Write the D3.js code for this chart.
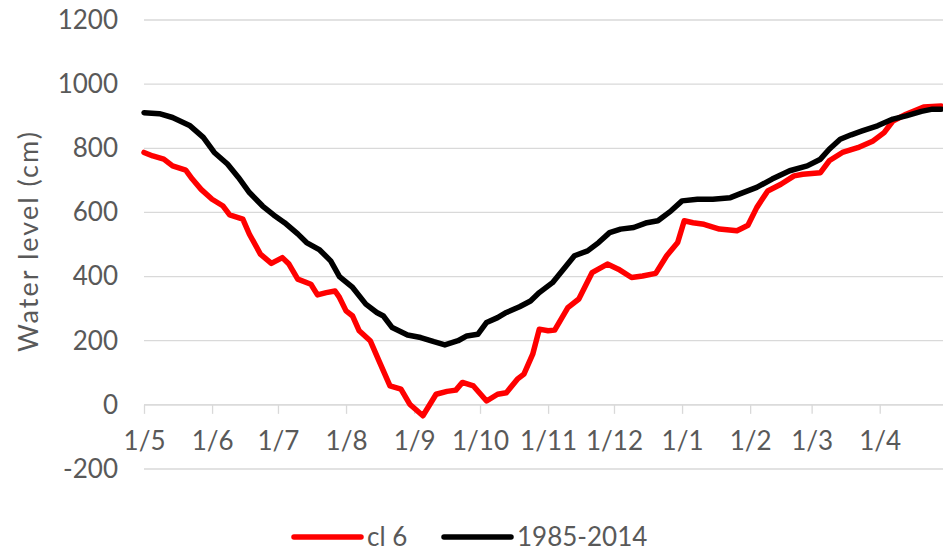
<!DOCTYPE html>
<html>
<head>
<meta charset="utf-8">
<script src="https://cdn.jsdelivr.net/npm/d3@7"></script>
<style>
  html, body { margin: 0; padding: 0; background: #fff; }
  svg { display: block; }
  text { font-family: Lato, "Open Sans", sans-serif; fill: #595959; }
</style>
</head>
<body>
<svg id="chart" width="943" height="554"></svg>
<script>
// ---- data (days since 1 May, water level in cm) ----
const monthStartDays = [0, 31, 61, 92, 123, 153, 184, 214, 245, 276, 304, 335];
const monthLabels = ["1/5", "1/6", "1/7", "1/8", "1/9", "1/10", "1/11", "1/12", "1/1", "1/2", "1/3", "1/4"];
const yTicks = [-200, 0, 200, 400, 600, 800, 1000, 1200];

const seriesNames = ["cl 6", "1985-2014"];

const cl6Days = [0, 4, 9, 13, 19, 22, 26, 31, 36, 39, 45, 48, 53, 58, 63, 66, 70, 76, 79, 83, 87, 89, 92, 95, 98, 103, 107, 112, 117, 121, 127, 133, 138, 142, 145, 150, 156, 161, 165, 170, 173, 177, 180, 184, 187, 193, 198, 204, 211, 216, 222, 227, 233, 238, 243, 246, 250, 255, 262, 270, 273, 275, 279, 284, 290, 296, 300, 308, 312, 318, 325, 332, 337, 341, 347, 355, 363];
const cl6Values = [787, 776, 766, 745, 732, 704, 672, 641, 620, 592, 579, 532, 470, 441, 459, 439, 392, 376, 343, 350, 355, 335, 293, 277, 231, 200, 137, 59, 49, 2, -34, 33, 42, 46, 70, 59, 12, 33, 38, 80, 96, 158, 236, 231, 233, 303, 330, 412, 439, 423, 397, 402, 410, 465, 506, 574, 568, 563, 548, 543, 553, 560, 615, 667, 688, 714, 719, 724, 761, 787, 802, 823, 849, 885, 906, 929, 932];

const refDays = [0, 7, 13, 21, 27, 32, 38, 43, 48, 54, 59, 64, 70, 74, 80, 85, 89, 95, 101, 106, 109, 113, 120, 126, 132, 137, 143, 147, 152, 156, 161, 165, 171, 176, 180, 186, 191, 196, 202, 207, 212, 217, 223, 229, 234, 240, 245, 252, 259, 267, 271, 279, 286, 294, 302, 308, 312, 317, 322, 327, 334, 341, 347, 354, 359, 363];
const refValues = [911, 908, 896, 870, 834, 787, 751, 709, 662, 620, 592, 568, 533, 506, 483, 449, 400, 366, 314, 288, 277, 241, 218, 210, 197, 187, 200, 215, 220, 257, 272, 288, 306, 324, 350, 381, 423, 465, 480, 506, 537, 548, 553, 568, 574, 605, 636, 641, 641, 646, 657, 678, 704, 730, 745, 766, 797, 828, 842, 854, 870, 891, 901, 915, 922, 922];

// ---- chart ----
const FONT = "Lato, 'Open Sans', sans-serif";
const svg = d3.select("#chart");
const x = d3.scaleLinear().domain([0, 365]).range([144, 945.6]);
const y = d3.scaleLinear().domain([-200, 1200]).range([469, 20]);

// gridlines
svg.append("g").selectAll("line").data(yTicks).join("line")
  .attr("x1", 144).attr("x2", 943)
  .attr("y1", d => y(d)).attr("y2", d => y(d))
  .attr("stroke", "#d9d9d9").attr("stroke-width", 1.3);

// y axis labels
const yAxis = d3.axisLeft(y).tickValues(yTicks).tickSize(0).tickPadding(0).tickFormat(d => String(d));
const gy = svg.append("g").attr("transform", "translate(118,0)").call(yAxis);
gy.select(".domain").remove();
gy.selectAll("text").attr("font-size", 26).attr("fill", "#595959").style("font-family", FONT);

// x axis at zero
const xAxis = d3.axisBottom(x).tickValues(monthStartDays).tickSize(9).tickPadding(18)
  .tickFormat((d, i) => monthLabels[i]);
const gx = svg.append("g").attr("transform", `translate(0,${y(0)})`).call(xAxis);
gx.select(".domain").attr("stroke", "#d9d9d9").attr("stroke-width", 1.3).attr("d", `M144,0H943`);
gx.selectAll(".tick line").attr("stroke", "#d9d9d9").attr("stroke-width", 1.3);
gx.selectAll("text").attr("font-size", 26).attr("fill", "#595959").style("font-family", FONT);

// y-axis title
svg.append("text")
  .attr("transform", "translate(38,242) rotate(-90)")
  .attr("text-anchor", "middle")
  .attr("font-size", 27)
  .attr("textLength", 220)
  .attr("lengthAdjust", "spacing")
  .text("Water level (cm)");

// lines
const line = d3.line().x(d => x(d[0])).y(d => y(d[1]));
const cl6 = cl6Days.map((d, i) => [d, cl6Values[i]]);
const ref = refDays.map((d, i) => [d, refValues[i]]);

svg.append("path").datum(cl6).attr("d", line)
  .attr("fill", "none").attr("stroke", "#ff0000").attr("stroke-width", 5.5)
  .attr("stroke-linejoin", "round").attr("stroke-linecap", "round");
svg.append("path").datum(ref).attr("d", line)
  .attr("fill", "none").attr("stroke", "#000000").attr("stroke-width", 5.5)
  .attr("stroke-linejoin", "round").attr("stroke-linecap", "round");

// legend
const legend = [
  { name: seriesNames[0], color: "#ff0000", x0: 294 },
  { name: seriesNames[1], color: "#000000", x0: 444 }
];
const lg = svg.append("g");
legend.forEach(l => {
  lg.append("line").attr("x1", l.x0).attr("x2", l.x0 + 67).attr("y1", 537).attr("y2", 537)
    .attr("stroke", l.color).attr("stroke-width", 5.5).attr("stroke-linecap", "round");
  lg.append("text").attr("x", l.x0 + 73).attr("y", 537).attr("dy", "0.35em")
    .attr("font-size", 26).text(l.name);
});
</script>
</body>
</html>
